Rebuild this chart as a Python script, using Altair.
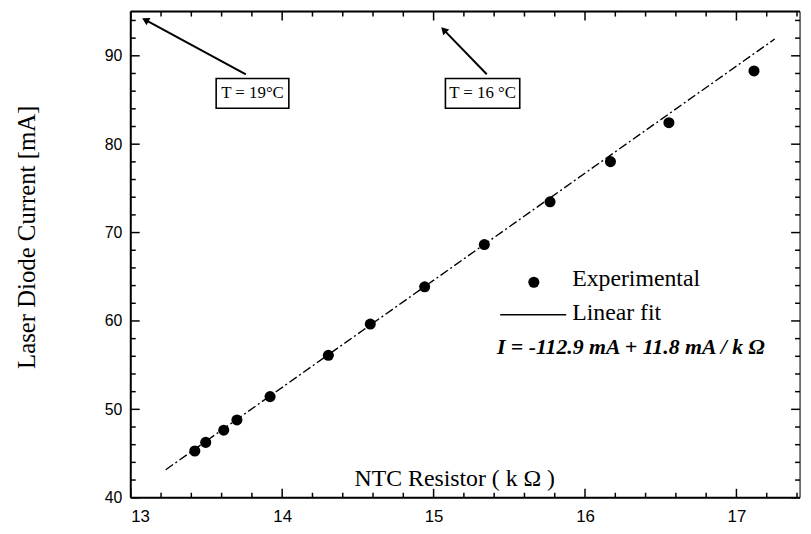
import altair as alt
import pandas as pd

# ---- data ----
resistance = [13.423, 13.495, 13.614, 13.701, 13.920, 14.305, 14.582, 14.941,
              15.335, 15.769, 16.168, 16.554, 17.116]
current = [45.29, 46.26, 47.64, 48.80, 51.44, 56.11, 59.65, 63.86,
           68.64, 73.48, 78.03, 82.43, 88.29]

fit_x = [13.231, 17.253]
fit_y = [43.17, 91.90]

x_major = [13, 14, 15, 16, 17]
x_minor = [13.2, 13.4, 13.6, 13.8, 14.2, 14.4, 14.6, 14.8, 15.2, 15.4, 15.6, 15.8,
           16.2, 16.4, 16.6, 16.8, 17.2, 17.4]
y_major = [40, 50, 60, 70, 80, 90]
y_minor = [42, 44, 46, 48, 52, 54, 56, 58, 62, 64, 66, 68, 72, 74, 76, 78,
           82, 84, 86, 88, 92, 94]

box_labels = ["T = 19°C", "T = 16 °C"]
box_x1 = [13.564, 15.078]
box_x2 = [14.044, 15.569]
box_y1 = [84.07, 84.07]
box_y2 = [87.43, 87.43]
arrow_tail_x = [13.760, 15.351]
arrow_tail_y = [87.91, 87.91]
arrow_head_x = [13.096, 15.067]
arrow_head_y = [94.06, 92.94]
arrow_angle = [298, 316]

legend_dot_x = [15.662]
legend_dot_y = [64.38]
legend_line_x = [15.44, 15.876]
legend_line_y = [60.7, 60.7]
legend_text = ["Experimental", "Linear fit"]
legend_text_x = [15.915, 15.915]
legend_text_y = [64.7, 60.9]
equation = ["I = -112.9 mA + 11.8  mA / k Ω"]
equation_x = [15.418]
equation_y = [57.0]

x_title = ["NTC Resistor ( k Ω )"]
x_title_x = [15.14]
x_title_y = [42.1]

W, H = 676, 491
XDOM = [13, 17.42]
YDOM = [40, 95]

X_AXIS = alt.Axis(values=x_major, format="d", ticks=False, domain=False, grid=False,
                  labelFont="Liberation Sans", labelFontSize=17, labelColor="black",
                  labelPadding=11, title=None)
Y_AXIS = alt.Axis(values=y_major, format="d", ticks=False, domain=False, grid=False,
                  labelFont="Liberation Sans", labelFontSize=16, labelColor="black",
                  labelPadding=9, title=None)


def X(field="x"):
    return alt.X(f"{field}:Q", scale=alt.Scale(domain=XDOM, nice=False, zero=False), axis=X_AXIS)


def Y(field="y"):
    return alt.Y(f"{field}:Q", scale=alt.Scale(domain=YDOM, nice=False, zero=False), axis=Y_AXIS)


pts = pd.DataFrame({"x": resistance, "y": current})
fit = pd.DataFrame({"x": fit_x, "y": fit_y})

points = alt.Chart(pts).mark_circle(color="black", opacity=1, size=125).encode(x=X(), y=Y())

fit_line = alt.Chart(fit).mark_line(color="black", strokeWidth=1.4,
                                    strokeDash=[9, 3, 2, 3]).encode(x=X(), y=Y())

layers = [points, fit_line]

# frame lines
frame = pd.DataFrame({"k": [0]})
layers.append(alt.Chart(frame).mark_rule(color="black", strokeWidth=2).encode(
    x=alt.value(0), x2=alt.value(W), y=alt.value(H)))
layers.append(alt.Chart(frame).mark_rule(color="black", strokeWidth=2).encode(
    x=alt.value(0), x2=alt.value(W), y=alt.value(0)))
layers.append(alt.Chart(frame).mark_rule(color="black", strokeWidth=2).encode(
    x=alt.value(0), y=alt.value(0), y2=alt.value(H)))
layers.append(alt.Chart(frame).mark_rule(color="black", strokeWidth=1).encode(
    x=alt.value(W), y=alt.value(0), y2=alt.value(H)))


# inward ticks on all four sides
def vticks(vals, length, top):
    df = pd.DataFrame({"x": vals})
    if top:
        return alt.Chart(df).mark_rule(color="black", strokeWidth=1.5).encode(
            x=X(), y=alt.value(0), y2=alt.value(length))
    return alt.Chart(df).mark_rule(color="black", strokeWidth=1.5).encode(
        x=X(), y=alt.value(H), y2=alt.value(H - length))


def hticks(vals, length, right):
    df = pd.DataFrame({"y": vals})
    if right:
        return alt.Chart(df).mark_rule(color="black", strokeWidth=1.5).encode(
            y=Y(), x=alt.value(W), x2=alt.value(W - length))
    return alt.Chart(df).mark_rule(color="black", strokeWidth=1.5).encode(
        y=Y(), x=alt.value(0), x2=alt.value(length))


for top in (False, True):
    layers.append(vticks(x_major, 9, top))
    layers.append(vticks(x_minor, 5, top))
for right in (False, True):
    layers.append(hticks(y_major, 9, right))
    layers.append(hticks(y_minor, 5, right))

# annotation arrows
arr = pd.DataFrame({"x": arrow_tail_x, "y": arrow_tail_y,
                    "x2": arrow_head_x, "y2": arrow_head_y, "a": arrow_angle})
layers.append(alt.Chart(arr).mark_rule(color="black", strokeWidth=2).encode(
    x=X(), y=Y(), x2="x2:Q", y2="y2:Q"))
layers.append(alt.Chart(arr).mark_point(shape="triangle-up", filled=True, color="black",
                                        opacity=1, size=70).encode(
    x=X("x2"), y=Y("y2"), angle=alt.Angle("a:Q", scale=None)))

# boxes
boxes = pd.DataFrame({"x": box_x1, "x2": box_x2, "y": box_y1, "y2": box_y2,
                      "t": box_labels,
                      "xm": [(a + b) / 2 for a, b in zip(box_x1, box_x2)],
                      "ym": [(a + b) / 2 for a, b in zip(box_y1, box_y2)]})
layers.append(alt.Chart(boxes).mark_rect(fill="white", stroke="black", strokeWidth=1.6).encode(
    x=X(), x2="x2:Q", y=Y(), y2="y2:Q"))
layers.append(alt.Chart(boxes).mark_text(font="Liberation Serif", fontSize=17, color="black",
                                         align="center", baseline="middle").encode(
    x=X("xm"), y=Y("ym"), text="t:N"))

# legend
layers.append(alt.Chart(pd.DataFrame({"x": legend_dot_x, "y": legend_dot_y})).mark_circle(
    color="black", opacity=1, size=125).encode(x=X(), y=Y()))
layers.append(alt.Chart(pd.DataFrame({"x": legend_line_x, "y": legend_line_y})).mark_line(
    color="black", strokeWidth=1.5).encode(x=X(), y=Y()))
layers.append(alt.Chart(pd.DataFrame({"x": legend_text_x, "y": legend_text_y, "t": legend_text})).mark_text(
    font="Liberation Serif", fontSize=24, color="black", align="left", baseline="middle").encode(
    x=X(), y=Y(), text="t:N"))
layers.append(alt.Chart(pd.DataFrame({"x": equation_x, "y": equation_y, "t": equation})).mark_text(
    font="Liberation Serif", fontSize=22, fontStyle="italic", fontWeight="bold", color="black",
    align="left", baseline="middle").encode(x=X(), y=Y(), text="t:N"))

# axis titles
layers.append(alt.Chart(pd.DataFrame({"x": x_title_x, "y": x_title_y, "t": x_title})).mark_text(
    font="Liberation Serif", fontSize=24, color="black", align="center", baseline="middle").encode(
    x=X(), y=Y(), text="t:N"))
layers.append(alt.Chart(pd.DataFrame({"t": ["Laser Diode Current [mA]"]})).mark_text(
    font="Liberation Serif", fontSize=25, color="black", align="center", baseline="middle",
    angle=270).encode(x=alt.value(-105), y=alt.value(228), text="t:N"))

chart = alt.layer(*layers).properties(
    width=W, height=H,
    autosize=alt.AutoSizeParams(type="none"),
    padding={"left": 124, "top": 1, "right": 3, "bottom": 34},
).configure_view(stroke=None).configure(background="white")

chart.save("out.html", embed_options={"renderer": "svg", "actions": False})
